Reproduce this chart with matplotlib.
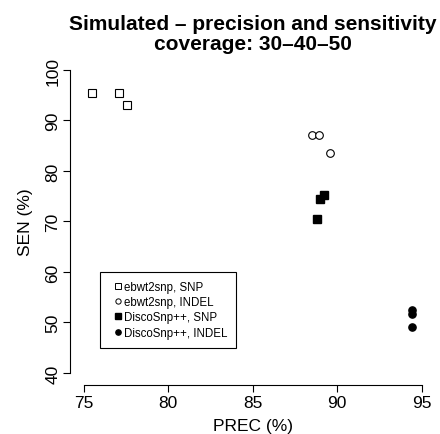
import matplotlib
matplotlib.use('Agg')
import matplotlib.pyplot as plt

plt.rcParams['font.family'] = ['Liberation Sans', 'DejaVu Sans']

# ebwt2snp, SNP
ebwt_snp_prec = [75.5, 77.1, 77.6]
ebwt_snp_sen = [95.4, 95.4, 93.1]
# ebwt2snp, INDEL
ebwt_indel_prec = [88.5, 88.9, 89.6]
ebwt_indel_sen = [87.2, 87.2, 83.6]
# DiscoSnp++, SNP
disco_snp_prec = [89.2, 89.0, 88.8]
disco_snp_sen = [75.3, 74.5, 70.5]
# DiscoSnp++, INDEL
disco_indel_prec = [94.4, 94.4, 94.4]
disco_indel_sen = [52.4, 51.7, 49.1]

labels = ['ebwt2snp, SNP', 'ebwt2snp, INDEL', 'DiscoSnp++, SNP', 'DiscoSnp++, INDEL']
xticks = [75, 80, 85, 90, 95]
yticks = [40, 50, 60, 70, 80, 90, 100]

fig = plt.figure(figsize=(4.4, 4.35), dpi=100)
ax = fig.add_axes([70 / 440, 49 / 435, 365.2 / 440, 327.1 / 435])

# 数据点
ax.plot(ebwt_snp_prec, ebwt_snp_sen, 's', ms=5.5, mfc='white', mec='black', mew=0.8, ls='none')
ax.plot(ebwt_indel_prec, ebwt_indel_sen, 'o', ms=5.5, mfc='white', mec='black', mew=0.8, ls='none')
ax.plot(disco_snp_prec, disco_snp_sen, 's', ms=5.5, color='black', ls='none')
ax.plot(disco_indel_prec, disco_indel_sen, 'o', ms=5.2, color='black', ls='none')

# R风格坐标轴
ax.set_xlim(74.2, 95.8)
ax.set_ylim(37.6, 102.4)
ax.spines['top'].set_visible(False)
ax.spines['right'].set_visible(False)
ax.spines['left'].set_bounds(40, 100)
ax.spines['bottom'].set_bounds(75, 95)
for s in ['left', 'bottom']:
    ax.spines[s].set_linewidth(0.8)
ax.set_xticks(xticks)
ax.set_yticks(yticks)
ax.tick_params(length=5, width=0.8, labelsize=12.5, pad=2)
for lab in ax.get_yticklabels():
    lab.set_rotation(90)
    lab.set_va('center')

ax.set_xlabel('PREC (%)', fontsize=12.5, va='top')
ax.xaxis.set_label_coords(0.5, -0.101)
ax.set_ylabel('SEN (%)', fontsize=12.5, va='center')
ax.yaxis.set_label_coords(-0.123, 0.5)

# 图例
h1, = ax.plot([], [], 's', ms=3.8, mfc='white', mec='black', mew=0.7)
h2, = ax.plot([], [], 'o', ms=3.8, mfc='white', mec='black', mew=0.7)
h3, = ax.plot([], [], 's', ms=4.2, color='black')
h4, = ax.plot([], [], 'o', ms=3.8, color='black')
leg = ax.legend([h1, h2, h3, h4], labels, loc='upper left', bbox_to_anchor=(76, 60),
                bbox_transform=ax.transData, borderaxespad=0, fontsize=8.3,
                frameon=True, fancybox=False, edgecolor='black', framealpha=1,
                borderpad=0.75, handlelength=1.5, handletextpad=-0.23, labelspacing=0.3)
leg.get_frame().set_linewidth(0.8)

# 标题
fig.text(252.6 / 440, 1 - 30 / 435, 'Simulated \u2013 precision and sensitivity',
         ha='center', va='baseline', fontsize=15, fontweight='bold')
fig.text(252.6 / 440, 1 - 49.5 / 435, 'coverage: 30\u201340\u201350',
         ha='center', va='baseline', fontsize=15, fontweight='bold')

plt.savefig('out.png', dpi=100)
